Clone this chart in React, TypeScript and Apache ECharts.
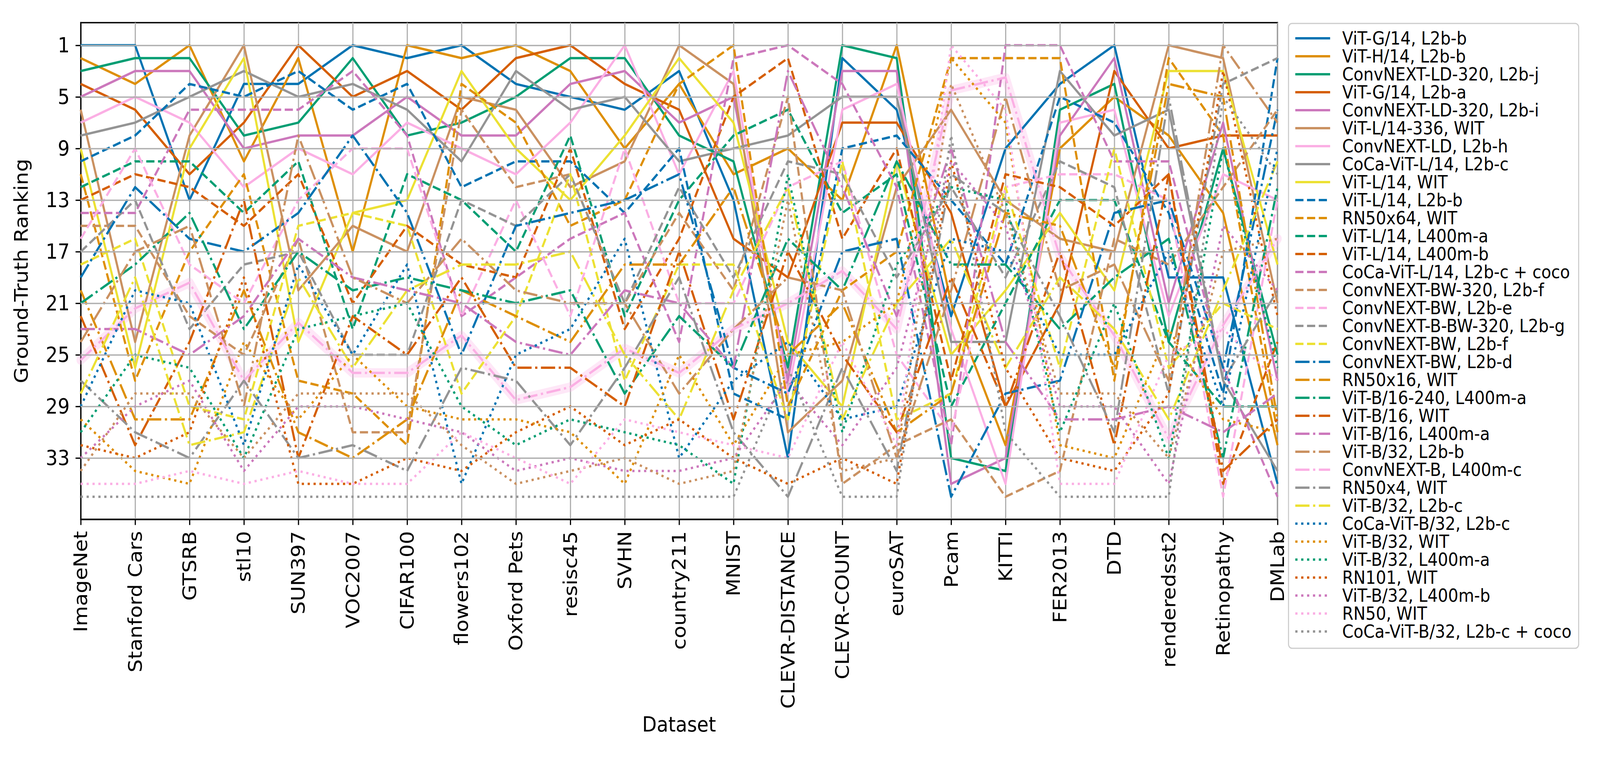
import React, { useEffect, useRef } from "react";
import * as echarts from "echarts";

const datasets = ["ImageNet","Stanford Cars","GTSRB","stl10","SUN397","VOC2007","CIFAR100","flowers102","Oxford Pets","resisc45","SVHN","country211","MNIST","CLEVR-DISTANCE","CLEVR-COUNT","euroSAT","Pcam","KITTI","FER2013","DTD","renderedsst2","Retinopathy","DMLab"];

const modelNames = [
  "ViT-G/14, L2b-b","ViT-H/14, L2b-b","ConvNEXT-LD-320, L2b-j","ViT-G/14, L2b-a","ConvNEXT-LD-320, L2b-i",
  "ViT-L/14-336, WIT","ConvNEXT-LD, L2b-h","CoCa-ViT-L/14, L2b-c","ViT-L/14, WIT","ViT-L/14, L2b-b",
  "RN50x64, WIT","ViT-L/14, L400m-a","ViT-L/14, L400m-b","CoCa-ViT-L/14, L2b-c + coco","ConvNEXT-BW-320, L2b-f",
  "ConvNEXT-BW, L2b-e","ConvNEXT-B-BW-320, L2b-g","ConvNEXT-BW, L2b-f","ConvNEXT-BW, L2b-d","RN50x16, WIT",
  "ViT-B/16-240, L400m-a","ViT-B/16, WIT","ViT-B/16, L400m-a","ViT-B/32, L2b-b","ConvNEXT-B, L400m-c",
  "RN50x4, WIT","ViT-B/32, L2b-c","CoCa-ViT-B/32, L2b-c","ViT-B/32, WIT","ViT-B/32, L400m-a",
  "RN101, WIT","ViT-B/32, L400m-b","ViT-B/32, L400m-a","RN50, WIT","CoCa-ViT-B/32, L2b-c + coco"
];

const rankTicks = [1, 5, 9, 13, 17, 21, 25, 29, 33];

const vitG14L2bB = [1,1,13,4,4,1,2,1,4,5,6,3,13,33,2,6,22,9,4,1,19,19,35];
const vitH14L2bB = [2,4,1,10,2,17,1,2,1,3,9,4,11,9,13,1,21,32,9,5,8,14,32];
const convLD320J = [3,2,2,8,7,2,8,7,5,2,2,8,10,26,1,2,33,34,6,4,24,9,25];
const vitG14L2bA = [4,6,11,7,1,5,3,6,2,1,4,6,16,19,7,7,14,29,21,3,9,8,8];
const convLD320I = [5,3,3,9,8,8,5,8,8,4,3,7,5,27,3,3,35,33,8,2,21,7,27];
const vitL14336Wit = [6,24,8,1,20,15,17,5,6,12,10,1,4,31,27,12,6,13,16,17,1,2,21];
const convLDH = [7,5,7,12,9,11,7,9,11,7,1,11,3,28,6,4,23,35,7,6,22,11,13];
const cocaL14 = [8,7,5,3,5,4,6,10,3,6,5,10,9,8,5,5,24,24,3,8,6,27,34];
const vitL14Wit = [9,26,9,2,24,14,13,3,9,13,8,2,7,24,29,10,25,20,14,20,3,3,18];
const vitL14L2bB = [10,8,4,5,3,6,4,12,10,10,14,9,28,30,9,8,13,18,5,7,14,28,2];
const rn50x64Wit = [11,27,17,11,27,28,32,4,7,15,13,4,1,29,20,17,2,2,2,27,2,8,31];
const vitL14L400mA = [12,10,10,14,10,23,11,13,17,8,22,13,8,6,14,11,29,21,13,13,24,29,29];
const vitL14L400mB = [13,11,12,15,11,21,15,18,19,9,23,16,5,2,16,9,27,11,12,15,11,35,24];
const cocaL14Coco = [14,14,6,6,6,3,8,22,19,16,14,24,2,1,4,12,32,1,1,10,10,26,36];
const convBW320F = [15,15,22,25,16,31,31,6,12,11,21,14,20,5,35,32,30,36,34,16,18,12,6];
const convBWE = [16,9,18,21,13,9,9,22,13,22,9,21,21,12,10,25,31,12,11,11,13,36,13];
const convBBW320G = [17,13,23,18,17,25,25,13,15,11,21,12,19,10,11,19,12,19,10,12,28,4,2];
const convBWF = [18,16,29,30,15,14,15,28,22,11,27,18,18,30,10,30,28,12,26,9,26,21,23];
const convBWD = [19,12,16,17,14,8,14,25,15,14,13,11,26,28,17,16,36,28,27,14,13,26,6];
const rn50x16Wit = [20,30,30,20,31,33,30,20,22,24,18,18,12,25,21,31,28,14,15,26,4,5,30];
const vitB16240L400mA = [21,18,14,23,17,20,19,20,21,20,28,22,26,16,20,10,18,18,23,19,16,33,12];
const vitB16Wit = [22,32,24,13,33,22,25,19,26,26,29,17,30,17,25,31,19,29,17,32,11,34,30];
const vitB16L400mA = [23,23,25,22,16,19,20,21,24,25,20,21,26,3,12,22,9,24,30,30,29,31,28];
const vitB32L2bB = [24,17,15,29,8,19,21,16,20,21,21,28,23,19,20,33,20,5,20,18,27,1,7];
const convBL400mC = [25.4,21.4,19.4,27,22.5,26.4,26.4,23.5,28.5,27.5,24.5,26.4,23,21,18.5,23,4.5,3.5,17.4,23.5,31.5,22.7,16];
const rn50x4Wit = [27,31,33,27,33,32,34,26,27,32,26,19,31,36,26,34,11,14,22,31,5,27,20];
const vitB32L2bC = [28,19,32,31,19,26,20,18,18,17,25,30,20,12,30,21,16,26,19,23,30,20,10];
const cocaB32 = [29,20,21,32,18,25,18,35,25,23,16,33,27,24,30,29,16,17,25,25,17,29,9];
const vitB32Wit = [30,34,35,24,30,25,29,30,30,31,35,25,32,25,24,21,2,7,32,33,23,30,31];
const vitB32L400mA = [31,25,26,33,23,22,21,29,32,30,31,32,35,11,31,18,12,13,31,21,33,9,26];
const rn101Wit = [32,33,31,19,35,35,33,34,31,29,32,30,33,35,33,35,10,26,33,34,28,3,22];
const vitB32L400mB = [33,29,27,34,29,29,30,31,34,33,34,34,33,27,32,26,10,15,29,29,35,15,20];
const vitB32L400mA2 = [34,28,28,33,28,28,28,32,35,34,33,35,34,13,34,33,4,14,28,28,33,17,16];
const rn50Wit = [35,35,34,35,34,35,35,31,33,35,30,31,32,33,24,32,1,6,35,35,25,23,27];
const cocaB32Coco = [36,36,36,36,36,36,36,36,36,36,36,36,36,26,36,36,8,31,36,36,36,5,11];

const allRanks = [
  vitG14L2bB, vitH14L2bB, convLD320J, vitG14L2bA, convLD320I, vitL14336Wit, convLDH, cocaL14, vitL14Wit,
  vitL14L2bB, rn50x64Wit, vitL14L400mA, vitL14L400mB, cocaL14Coco, convBW320F, convBWE, convBBW320G, convBWF,
  convBWD, rn50x16Wit, vitB16240L400mA, vitB16Wit, vitB16L400mA, vitB32L2bB, convBL400mC, rn50x4Wit, vitB32L2bC,
  cocaB32, vitB32Wit, vitB32L400mA, rn101Wit, vitB32L400mB, vitB32L400mA2, rn50Wit, cocaB32Coco
];

const highlightIndex = 24;

const palette = ["#0173b2","#de8f05","#029e73","#d55e00","#cc78bc","#ca9161","#fbafe4","#949494","#ece133"];
const dashes: any[] = ["solid", [23, 10], [40, 10, 6.25, 10], [6.25, 10.3]];

const FONT = "DejaVu Sans";
const W = 4500;
const H = 1950;

export default function App() {
  const ref = useRef<HTMLDivElement>(null);
  const sx = typeof window !== "undefined" ? window.innerWidth / W : 1;
  const sy = typeof window !== "undefined" ? window.innerHeight / H : 1;
  useEffect(() => {
    document.body.style.margin = "0";
    const chart = echarts.init(ref.current!, null, { renderer: "svg", width: W, height: H });
    const series: any[] = [];
    series.push({
      type: "line",
      name: "__grid",
      data: datasets.map(() => null),
      silent: true,
      z: 1,
      symbol: "none",
      markLine: {
        silent: true,
        symbol: "none",
        label: { show: false },
        lineStyle: { color: "#b0b0b0", width: 3.3, type: "solid" },
        data: rankTicks.map((v) => ({ yAxis: v })),
      },
    });
    allRanks.forEach((vals, i) => {
      if (i === highlightIndex) {
        series.push({
          type: "line",
          name: "__halo",
          data: vals,
          symbol: "none",
          silent: true,
          z: 2,
          lineStyle: { color: "rgba(251,175,228,0.3)", width: 24, cap: "round", join: "round" },
        });
      }
      series.push({
        type: "line",
        name: modelNames[i],
        data: vals,
        symbol: "none",
        showSymbol: false,
        silent: true,
        z: 3,
        emphasis: { disabled: true },
        lineStyle: {
          color: palette[i % 9],
          width: 6,
          type: dashes[Math.floor(i / 9)],
          cap: "butt",
          join: "round",
        },
        itemStyle: { color: palette[i % 9] },
      });
    });

    chart.setOption({
      animation: false,
      backgroundColor: "#ffffff",
      grid: {
        left: 227,
        top: 58,
        width: 3366,
        height: 1271,
        show: true,
        borderColor: "#000",
        borderWidth: 3.3,
        backgroundColor: "transparent",
      },
      xAxis: {
        type: "category",
        data: datasets,
        boundaryGap: false,
        name: "Dataset",
        nameLocation: "middle",
        nameGap: 498,
        nameTextStyle: { fontFamily: FONT, fontSize: 53, color: "#000" },
        axisLine: { onZero: false, lineStyle: { color: "#000", width: 3.3 } },
        axisTick: { show: true, length: 14.5, interval: 0, lineStyle: { color: "#000", width: 3.3 } },
        axisLabel: { rotate: 90, interval: 0, margin: 30, fontFamily: FONT, fontSize: 53, color: "#000" },
        splitLine: { show: true, interval: 0, lineStyle: { color: "#b0b0b0", width: 3.3 } },
      },
      yAxis: {
        type: "value",
        inverse: true,
        min: -0.75,
        max: 37.75,
        name: "Ground-Truth Ranking",
        nameLocation: "middle",
        nameRotate: 90,
        nameGap: 141,
        nameTextStyle: { fontFamily: FONT, fontSize: 53, color: "#000" },
        axisLine: { show: true, onZero: false, lineStyle: { color: "#000", width: 3.3 } },
        axisTick: { show: true, length: 14.5, customValues: rankTicks, lineStyle: { color: "#000", width: 3.3 } },
        axisLabel: { customValues: rankTicks, margin: 31, fontFamily: FONT, fontSize: 53, color: "#000" },
        splitLine: { show: false },
      },
      legend: {
        data: modelNames,
        orient: "vertical",
        left: 3624,
        top: 60,
        padding: [15, 20, 20, 16],
        itemWidth: 98,
        itemHeight: 16,
        itemGap: 0,
        backgroundColor: "#ffffff",
        borderColor: "#cccccc",
        borderWidth: 3,
        borderRadius: 10,
        selectedMode: false,
        lineStyle: { width: 6 },
        itemStyle: { opacity: 0, borderWidth: 0 },
        textStyle: { fontFamily: FONT, fontSize: 45.5, color: "#000", lineHeight: 45, padding: [0, 0, 0, 29] },
      },
      series,
    });
    return () => chart.dispose();
  }, []);
  return (
    <div style={{ position: "fixed", left: 0, top: 0, width: "100vw", height: "100vh", overflow: "hidden", background: "#fff" }}>
      <div style={{ width: W, height: H, transform: `scale(${sx}, ${sy})`, transformOrigin: "0 0" }}>
        <div ref={ref} style={{ width: W, height: H }} />
      </div>
    </div>
  );
}
